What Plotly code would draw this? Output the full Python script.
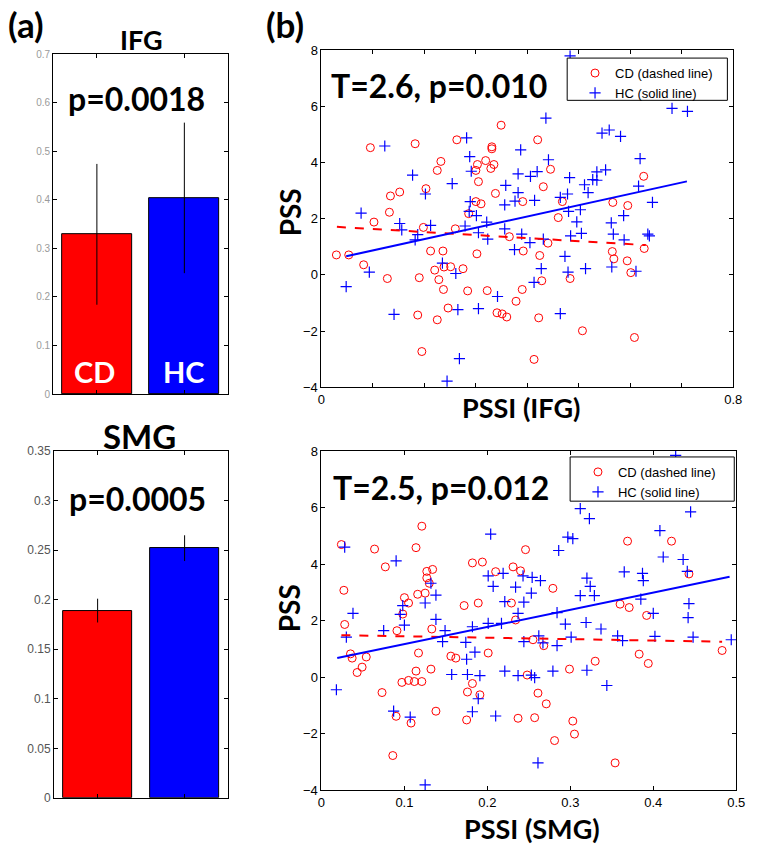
import plotly.graph_objects as go

W, H = 758, 854

# ---- panel (a): bar means with error bars
bar_pos = [1, 2]
bar_groups = ['CD', 'HC']
bar_colors = ['#ff0000', '#0000ff']
ifg_mean = [0.329, 0.404]
ifg_err = [0.145, 0.155]
smg_mean = [0.189, 0.252]
smg_err = [0.012, 0.013]

# ---- panel (b) top: PSSI (IFG) vs PSS
cd_ifg_x = [0.095, 0.182, 0.263, 0.349, 0.331, 0.331, 0.420, 0.232, 0.225, 0.319,
            0.335, 0.303, 0.329, 0.300, 0.445, 0.305, 0.203, 0.152, 0.134, 0.338,
            0.431, 0.626, 0.300, 0.310, 0.391, 0.468, 0.566, 0.595, 0.132, 0.286,
            0.460,
            0.102, 0.029, 0.053, 0.082, 0.128, 0.190, 0.198, 0.212, 0.220, 0.228,
            0.236, 0.237, 0.238, 0.251, 0.260, 0.275, 0.246, 0.187, 0.225, 0.195,
            0.284, 0.302, 0.322, 0.341, 0.351, 0.360, 0.365, 0.378, 0.390, 0.392,
            0.424, 0.428, 0.422, 0.413, 0.440, 0.483, 0.507, 0.565, 0.568, 0.594,
            0.601, 0.608, 0.627]
cd_ifg_y = [4.53, 4.67, 4.81, 5.33, 4.56, 4.49, 4.81, 4.04, 3.72, 4.07,
            3.93, 3.93, 3.79, 3.72, 3.76, 3.32, 3.07, 2.95, 2.81, 2.90,
            3.14, 3.51, 2.61, 2.53, 2.61, 2.61, 2.58, 2.47, 2.23, 2.18,
            2.04,
            1.88, 0.71, 0.71, 0.36, -0.13, -0.10, 1.69, 0.85, 0.17, -0.17,
            0.85, -0.52, 0.28, 0.29, 1.64, 0.22, -1.18, -1.43, -1.60, -2.73,
            -0.57, 0.75, -0.56, -1.35, -1.39, -1.50, 1.36, -0.94, -0.52, 0.85,
            0.69, -0.21, -1.53, -3.01, 1.13, -0.13, -1.99, 0.83, 0.57, 0.50,
            0.08, -2.23, 0.94]
hc_ifg_x = [0.077, 0.123, 0.177, 0.202, 0.254, 0.282, 0.288, 0.291, 0.289, 0.287,
            0.301, 0.358, 0.356, 0.376, 0.382, 0.382, 0.387, 0.406, 0.419, 0.414,
            0.436, 0.441, 0.464, 0.478, 0.482, 0.480, 0.503, 0.511, 0.518, 0.527,
            0.535, 0.535, 0.552, 0.545, 0.559, 0.581, 0.619, 0.616, 0.643, 0.587,
            0.681, 0.711, 0.483,
            0.321, 0.048, 0.093, 0.152, 0.156, 0.141, 0.187, 0.182, 0.212, 0.235,
            0.261, 0.265, 0.268, 0.244, 0.279, 0.305, 0.305, 0.323, 0.342, 0.356,
            0.375, 0.389, 0.405, 0.413, 0.427, 0.431, 0.464, 0.473, 0.479, 0.484,
            0.496, 0.505, 0.513, 0.563, 0.567, 0.564, 0.588, 0.611, 0.634, 0.637]
hc_ifg_y = [2.20, 4.59, 3.55, 2.88, 3.25, 4.88, 4.21, 3.69, 2.61, 2.26,
            2.11, 3.19, 2.49, 2.63, 2.93, 3.60, 4.45, 3.51, 3.68, 2.65,
            5.58, 4.10, 2.76, 2.88, 3.46, 2.26, 2.32, 3.21, 2.93, 3.39,
            3.67, 3.37, 3.74, 5.05, 5.16, 4.93, 4.14, 3.16, 2.58, 2.11,
            5.93, 5.82, 7.80,
            1.88, -0.42, 0.10, 1.83, 1.60, -1.41, 1.43, 1.25, 1.76, 0.42,
            0.05, -1.24, -2.98, -3.78, 1.74, 1.50, -1.20, 1.27, -0.77, 1.64,
            0.90, 1.45, 1.15, -0.27, 0.22, 1.27, -1.38, 0.66, 0.10, 1.39,
            1.89, 1.48, 0.22, 1.85, 1.45, 0.28, 1.25, 0.13, 1.45, 1.39]
cd_ifg_fit_x = [0.03, 0.63]
cd_ifg_fit_y = [1.71, 1.06]
hc_ifg_fit_x = [0.048, 0.71]
hc_ifg_fit_y = [0.66, 3.33]

# ---- panel (b) bottom: PSSI (SMG) vs PSS
cd_smg_x = [0.024, 0.064, 0.077, 0.114, 0.121, 0.027, 0.127, 0.127, 0.134, 0.130,
            0.116, 0.125, 0.100, 0.105, 0.182, 0.194, 0.210, 0.231, 0.240, 0.246,
            0.279, 0.189, 0.172, 0.229, 0.369, 0.422, 0.443, 0.360, 0.371,
            0.028, 0.035, 0.037, 0.054, 0.049, 0.043, 0.073, 0.091, 0.090, 0.086,
            0.098, 0.097, 0.105, 0.112, 0.121, 0.108, 0.114, 0.117, 0.132, 0.133,
            0.138, 0.156, 0.162, 0.175, 0.176, 0.182, 0.191, 0.201, 0.234, 0.248,
            0.255, 0.261, 0.268, 0.271, 0.237, 0.257, 0.281, 0.299, 0.303, 0.305,
            0.330, 0.354, 0.383, 0.394, 0.392, 0.483]
cd_smg_y = [4.69, 4.53, 3.90, 4.58, 5.34, 3.07, 3.74, 3.51, 3.81, 3.32,
            2.93, 2.97, 2.81, 2.62, 4.04, 4.07, 3.73, 3.90, 3.76, 4.51,
            3.14, 2.62, 2.53, 2.62, 4.81, 4.81, 3.65, 2.58, 2.46,
            1.86, 0.82, 0.67, 0.71, 0.35, 0.16, -0.55, 1.64, -1.39, -2.78,
            2.23, -0.19, -0.12, -0.16, -0.16, -1.63, 0.21, 0.85, 0.28, 1.70,
            -1.21, 0.74, 0.67, -1.52, -0.53, -0.23, -0.63, 0.85, 2.02, 0.07,
            1.32, -0.57, 1.11, -0.95, -1.46, -1.44, -2.25, 0.28, -1.56, -2.02,
            0.56, -3.04, 0.81, 0.48, 2.18, 0.94]
hc_smg_x = [0.028, 0.090, 0.098, 0.125, 0.132, 0.138, 0.204, 0.201, 0.207, 0.219,
            0.234, 0.243, 0.254, 0.264, 0.253, 0.221, 0.244, 0.286, 0.297, 0.303,
            0.312, 0.323, 0.320, 0.324, 0.312, 0.329, 0.365, 0.387, 0.388, 0.385,
            0.408, 0.412, 0.436, 0.441, 0.443, 0.427, 0.445,
            0.018, 0.030, 0.038, 0.075, 0.087, 0.095, 0.100, 0.107, 0.138, 0.149,
            0.146, 0.157, 0.174, 0.175, 0.176, 0.182, 0.182, 0.185, 0.189, 0.191,
            0.201, 0.210, 0.217, 0.221, 0.237, 0.237, 0.244, 0.253, 0.257, 0.261,
            0.262, 0.267, 0.279, 0.284, 0.284, 0.294, 0.301, 0.319, 0.320, 0.337,
            0.344, 0.357, 0.363, 0.400, 0.402, 0.442, 0.448, 0.494, 0.125]
hc_smg_y = [4.60, 4.11, 2.53, 2.62, 3.32, 2.90, 5.06, 3.58, 3.21, 3.67,
            3.18, 3.58, 3.53, 3.41, 2.97, 2.67, 2.65, 4.48, 4.95, 4.90,
            5.96, 5.61, 3.50, 3.21, 2.88, 2.88, 3.72, 3.67, 3.41, 2.76,
            5.18, 4.25, 4.16, 3.74, 2.60, 7.85, 5.85,
            -0.45, 1.41, 2.25, 1.64, -1.21, 2.22, 1.84, -1.42, 2.04, 1.64,
            1.25, 0.09, 1.23, 0.63, 0.09, 1.78, -1.23, 0.88, -0.77, 0.05,
            1.90, -1.38, 1.90, 0.21, 2.25, 0.05, 1.25, 0.07, -0.02, -3.04,
            1.46, 1.21, 0.21, 2.28, 1.11, 1.87, 1.41, 1.93, 0.24, 1.70,
            -0.30, 1.46, 1.29, 2.25, 1.44, 2.10, 1.41, 1.32, -3.82]
cd_smg_fit_x = [0.024, 0.483]
cd_smg_fit_y = [1.48, 1.25]
hc_smg_fit_x = [0.019, 0.492]
hc_smg_fit_y = [0.67, 3.55]

for a, b in [(cd_ifg_x, cd_ifg_y), (hc_ifg_x, hc_ifg_y), (cd_smg_x, cd_smg_y), (hc_smg_x, hc_smg_y)]:
    assert len(a) == len(b)

BOLD = 'Lato'
TICK = 'Liberation Sans'
RED = '#ff0000'
BLUE = '#0000ff'


def px_x(p):
    return p / W


def px_y(p):
    return 1 - p / H


traces = []
# bars
for mean, err, ax in [(ifg_mean, ifg_err, ''), (smg_mean, smg_err, '2')]:
    traces.append(go.Bar(x=bar_pos, y=mean, width=0.8,
                         marker=dict(color=bar_colors, line=dict(color='black', width=1)),
                         error_y=dict(type='data', array=err, color='black', thickness=1, width=0),
                         xaxis='x' + ax, yaxis='y' + ax, showlegend=False))

# scatter panels
for cx, cy, hx, hy, cfx, cfy, hfx, hfy, ax, leg in [
        (cd_ifg_x, cd_ifg_y, hc_ifg_x, hc_ifg_y, cd_ifg_fit_x, cd_ifg_fit_y, hc_ifg_fit_x, hc_ifg_fit_y, '3', 'legend'),
        (cd_smg_x, cd_smg_y, hc_smg_x, hc_smg_y, cd_smg_fit_x, cd_smg_fit_y, hc_smg_fit_x, hc_smg_fit_y, '4', 'legend2')]:
    traces.append(go.Scatter(x=cx, y=cy, mode='markers', name='CD (dashed line)',
                             marker=dict(symbol='circle-open', size=8, color=RED, line=dict(width=1)),
                             xaxis='x' + ax, yaxis='y' + ax, legend=leg))
    traces.append(go.Scatter(x=hx, y=hy, mode='markers', name='HC (solid line)',
                             marker=dict(symbol='cross-thin-open', size=8, color=BLUE, line=dict(width=1.2, color=BLUE)),
                             xaxis='x' + ax, yaxis='y' + ax, legend=leg))
    traces.append(go.Scatter(x=cfx, y=cfy, mode='lines', line=dict(color=RED, width=2, dash='dash'),
                             xaxis='x' + ax, yaxis='y' + ax, showlegend=False))
    traces.append(go.Scatter(x=hfx, y=hfy, mode='lines', line=dict(color=BLUE, width=2),
                             xaxis='x' + ax, yaxis='y' + ax, showlegend=False))

frame = dict(showline=True, linecolor='black', linewidth=1, mirror='ticks', ticks='inside',
             ticklen=4, tickcolor='black', showgrid=False, zeroline=False)

bar_x = dict(frame, range=[0.5, 2.5], tickvals=bar_pos, showticklabels=False)
bar_tick_font = dict(family='Liberation Sans Narrow, Liberation Sans', size=11, color='#777')

ifg_ticks = [0, 0.1, 0.2, 0.3, 0.4, 0.5, 0.6, 0.7]
smg_ticks = [0, 0.05, 0.1, 0.15, 0.2, 0.25, 0.3, 0.35]
top_xticks = [0, 0.1, 0.2, 0.3, 0.4, 0.5, 0.6, 0.7, 0.8]
top_xtext = ['0', '', '', '', '', '', '', '', '0.8']
bot_xticks = [0, 0.1, 0.2, 0.3, 0.4, 0.5]
pss_ticks = [-4, -2, 0, 2, 4, 6, 8]
sc_font = dict(family=TICK, size=13, color='black')
leg_font = dict(family=TICK, size=13, color='black')

layout = go.Layout(
    width=W, height=H, margin=dict(l=0, r=0, t=0, b=0),
    paper_bgcolor='white', plot_bgcolor='white', bargap=0,
    xaxis=dict(bar_x, domain=[px_x(50), px_x(228)], anchor='y'),
    yaxis=dict(frame, domain=[px_y(394), px_y(48)], range=[0, 0.7], tickvals=ifg_ticks,
               tickfont=dict(bar_tick_font, size=10, color='#9a9a9a'), anchor='x'),
    xaxis2=dict(bar_x, domain=[px_x(51), px_x(228)], anchor='y2'),
    yaxis2=dict(frame, domain=[px_y(805), px_y(452)], range=[0, 0.35], tickvals=smg_ticks,
                tickfont=dict(bar_tick_font, size=12, color='#555'), anchor='x2'),
    xaxis3=dict(frame, domain=[px_x(323), px_x(742)], range=[0, 0.8], tickvals=top_xticks,
                ticktext=top_xtext, tickfont=sc_font, anchor='y3'),
    yaxis3=dict(frame, domain=[px_y(387), px_y(44)], range=[-4, 8], tickvals=pss_ticks,
                tickfont=sc_font, anchor='x3'),
    xaxis4=dict(frame, domain=[px_x(323), px_x(745)], range=[0, 0.5], tickvals=bot_xticks,
                tickfont=sc_font, anchor='y4'),
    yaxis4=dict(frame, domain=[px_y(797), px_y(452)], range=[-4, 8], tickvals=pss_ticks,
                tickfont=sc_font, anchor='x4'),
    legend=dict(x=px_x(581), y=px_y(52), xanchor='left', yanchor='top', bgcolor='rgba(0,0,0,0)',
                borderwidth=0, font=leg_font, itemwidth=30, tracegroupgap=0),
    legend2=dict(x=px_x(584), y=px_y(458), xanchor='left', yanchor='top', bgcolor='rgba(0,0,0,0)',
                 borderwidth=0, font=leg_font, itemwidth=30, tracegroupgap=0),
)

fig = go.Figure(data=traces, layout=layout)

# legend frames (MATLAB style boxes, wider than the legend content)
for x0, x1, y0, y1 in [(573, 736, 52, 95), (576, 743, 458, 503)]:
    fig.add_shape(type='rect', xref='paper', yref='paper', x0=px_x(x0), x1=px_x(x1),
                  y0=px_y(y1), y1=px_y(y0), fillcolor='white', line=dict(color='black', width=1),
                  layer='above')


def label(text, x, y, size, color='black', angle=0):
    fig.add_annotation(text='<b>%s</b>' % text, x=px_x(x), y=px_y(y), xref='paper', yref='paper',
                       xanchor='center', yanchor='middle', showarrow=False, textangle=angle,
                       font=dict(family=BOLD, size=size, color=color))


label('(a)', 22, 17, 35)
label('(b)', 286, 17, 35)
label('IFG', 140, 33, 27)
label('p=0.0018', 135, 93, 32)
label('SMG', 138, 437, 33)
label('p=0.0005', 136, 500, 32)
label('CD', 92, 371, 29, 'white')
label('HC', 183, 371, 29, 'white')
label('T=2.6, p=0.010', 443, 80, 32)
label('T=2.5, p=0.012', 445, 489, 32)
label('PSS', 291, 209, 28, angle=-90)
label('PSS', 290, 612, 28, angle=-90)
label('PSSI (IFG)', 526, 408, 27)
label('PSSI (SMG)', 537, 836, 27)

# the page body has a default 8px margin; drop it so the figure fills the window
fig.write_html("out.html", config={'displayModeBar': False},
               post_script="document.body.style.margin='0';")
